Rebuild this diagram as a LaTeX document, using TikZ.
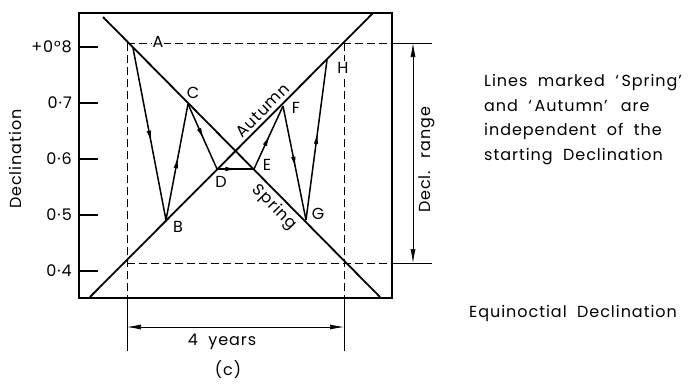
\documentclass[tikz,border=0pt]{standalone}
\usepackage{fontspec}
\setmainfont{Poppins}[LetterSpace=6,WordSpace=2]
\usetikzlibrary{arrows.meta,decorations.markings}
\tikzset{
  seasonln/.style={line width=1.8pt},
  frame/.style={line width=1.3pt},
  guide/.style={line width=0.9pt,dash pattern=on 8pt off 4pt},
  dimln/.style={line width=0.7pt,{Latex[length=14pt,width=5pt]}-{Latex[length=14pt,width=5pt]}},
  trail/.style={line width=1.5pt,postaction={decorate},
    decoration={markings,mark=at position 0.55 with {\arrow{Latex[length=12pt,width=4.5pt]}}}},
  lab/.style={font=\fontsize{16}{16}\selectfont,inner sep=1pt},
  ptlab/.style={lab,fill=white},
}

\begin{document}
\begin{tikzpicture}[x=1pt,y=-1pt]
  \useasboundingbox (0,0) rectangle (697,384);
  % frame of the plot, with its ticks
  \draw[frame] (79,13) rectangle (392,298);
  \foreach \y/\t in {47/+0°8,103/0·7,159/0·6,215/0·5,271/0·4}{
    \draw[frame] (79,\y) -- (98,\y);
    \node[lab,anchor=east] (tick\y) at (73,\y) {\t};
  }
  \node[lab,rotate=90] (ylab) at (15,159) {Declination};

  % range of the swing
  \coordinate (tl) at (127,43);
  \coordinate (tr) at (344,43);
  \coordinate (bl) at (127,263);
  \coordinate (br) at (344,263);
  \draw[guide] (tl) -- (392,43) (bl) -- (392,263) (tl) -- (127,298) (tr) -- (344,298);
  \draw[dimln,-] (392,43) -- (432,43) (392,263) -- (432,263)
                 (127,298) -- (127,351) (344,298) -- (344,351);

  % spring and autumn lines
  \coordinate (sp0) at (103,17);
  \coordinate (sp1) at (380,297);
  \coordinate (au0) at (90,297);
  \coordinate (au1) at (373,13);
  \draw[seasonln] (sp0) -- (sp1) node[lab,pos=0.65,sloped,below=2pt] (spring) {Spring};
  \draw[seasonln] (au0) -- (au1) node[lab,pos=0.633,sloped,above=2pt] (autumn) {Autumn};

  % the path of the declination
  \coordinate (A) at (133,48);
  \coordinate (B) at (166,220);
  \coordinate (C) at (188,104);
  \coordinate (D) at (217,169);
  \coordinate (E) at (254,169);
  \coordinate (F) at (283,106);
  \coordinate (G) at (306,220);
  \coordinate (H) at (327,60);
  \draw[trail] (A) -- (B);
  \draw[trail] (B) -- (C);
  \draw[trail] (C) -- (D);
  \draw[trail] (D) -- (E);
  \draw[trail] (E) -- (F);
  \draw[trail] (F) -- (G);
  \draw[trail] (G) -- (H);
  \node[ptlab] (lA) at (158,42) {A};
  \node[lab] (lB) at (178,227) {B};
  \node[lab] (lC) at (193,93) {C};
  \node[lab] (lD) at (221,182) {D};
  \node[lab] (lE) at (267,165) {E};
  \node[lab] (lF) at (296,108) {F};
  \node[lab] (lG) at (318,214) {G};
  \node[ptlab] (lH) at (343,68) {H};

  % dimensions
  \coordinate (yr0) at (127,327);
  \coordinate (yr1) at (344,327);
  \draw[dimln] (yr0) -- (yr1);
  \node[lab] (years) at (222,342) {4 years};
  \coordinate (rg0) at (413,43);
  \coordinate (rg1) at (413,263);
  \draw[dimln] (rg0) -- (rg1);
  \node[lab,rotate=90] (range) at (427,160) {Decl. range};

  \node[lab,align=left,anchor=north west,font=\fontsize{16}{24.7}\selectfont] (note) at (483,73)
    {Lines marked ‘\,Spring’\\and ‘\,Autumn’\, are\\independent of the\\starting Declination};
  \node[lab,anchor=west] (equi) at (468,313) {Equinoctial Declination};
  \node[lab] (cap) at (228,370) {(c)};
\end{tikzpicture}
\end{document}
